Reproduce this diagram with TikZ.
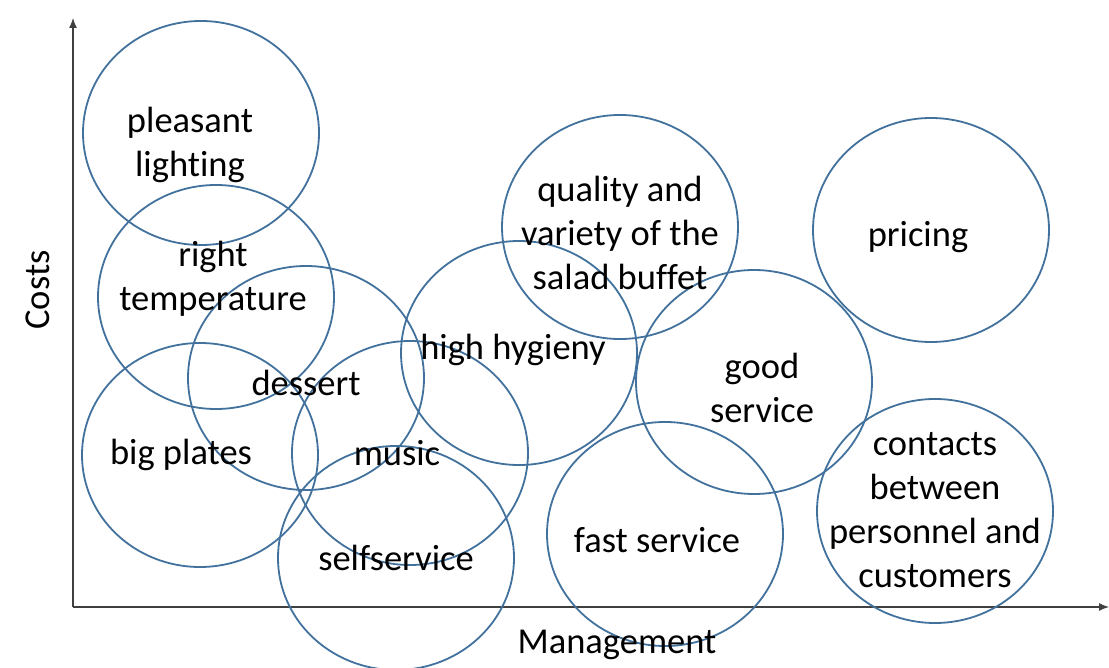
\documentclass[tikz,border=0pt]{standalone}
\usepackage{fontspec}
\setmainfont[Ligatures=NoCommon]{Carlito}
\usetikzlibrary{shapes.geometric,arrows.meta}
\definecolor{ring}{HTML}{41719C}
\definecolor{axisgray}{HTML}{404040}
\begin{document}
\begin{tikzpicture}[x=1pt,y=-1pt,
  bub/.style={draw=ring,line width=1.8pt,ellipse,minimum width=236pt,minimum height=224pt,inner sep=0pt},
  txt/.style={align=center,font=\fontsize{36.5}{44}\selectfont,text=black,inner sep=0pt},
  axisline/.style={draw=axisgray,line width=1.3pt,-{Latex[length=10pt,width=8pt]}}]
\useasboundingbox (0,0) rectangle (1109,668);
% axes
\coordinate (o) at (73,607);
\coordinate (ytip) at (73,18);
\coordinate (xtip) at (1109,607);
\draw[axisline] (o) -- (ytip);
\draw[axisline] (o) -- (xtip);
% circles
\node[bub] (pl) at (201,133) {};
\node[bub] (rt) at (216,297) {};
\node[bub] (de) at (306,378) {};
\node[bub] (bp) at (200,455) {};
\node[bub] (mu) at (410,453) {};
\node[bub] (ss) at (396,558) {};
\node[bub] (hh) at (519,353) {};
\node[bub] (qv) at (620,227) {};
\node[bub] (pr) at (931,230) {};
\node[bub] (gs) at (754,382) {};
\node[bub] (fs) at (665,534) {};
\node[bub] (cb) at (935,511) {};
% texts
\node[txt] (tpl) at (190,145) {pleasant\\lighting};
\node[txt] (trt) at (213,279) {right\\temperature};
\node[txt] (tde) at (306,383) {dessert};
\node[txt] (tbp) at (181,455) {big plates};
\node[txt] (tmu) at (397,453) {music};
\node[txt] (tss) at (396,558) {selfservice};
\node[txt] (thh) at (513,350) {high hygieny};
\node[txt] (tqv) at (620,233) {quality and\\variety of the\\salad buffet};
\node[txt] (tpr) at (918,237) {pricing};
\node[txt] (tgs) at (762,388) {good\\service};
\node[txt] (tfs) at (657,540) {fast service};
\node[txt] (tcb) at (935,510) {contacts\\between\\personnel and\\customers};
\node[txt,rotate=90] (costs) at (38,290) {Costs};
\node[txt] (mgmt) at (617,645) {Management};
\end{tikzpicture}
\end{document}
